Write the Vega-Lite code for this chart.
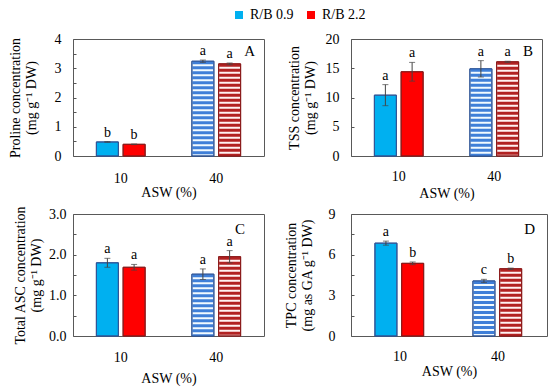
{
  "$schema": "https://vega.github.io/schema/vega-lite/v6.json",
  "padding": {"left": 7, "top": 8, "right": 5, "bottom": 5},
  "datasets": {
    "bars": [
      {"panel": "A", "asw": "10", "rb": "R/B 0.9", "mean": 0.48, "lo": 0.47, "hi": 0.49, "letter": "b"},
      {"panel": "A", "asw": "10", "rb": "R/B 2.2", "mean": 0.40, "lo": 0.39, "hi": 0.41, "letter": "b"},
      {"panel": "A", "asw": "40", "rb": "R/B 0.9", "mean": 3.24, "lo": 3.20, "hi": 3.28, "letter": "a"},
      {"panel": "A", "asw": "40", "rb": "R/B 2.2", "mean": 3.15, "lo": 3.12, "hi": 3.18, "letter": "a"},
      {"panel": "B", "asw": "10", "rb": "R/B 0.9", "mean": 10.4, "lo": 8.6, "hi": 12.2, "letter": "a"},
      {"panel": "B", "asw": "10", "rb": "R/B 2.2", "mean": 14.4, "lo": 12.8, "hi": 16.0, "letter": "a"},
      {"panel": "B", "asw": "40", "rb": "R/B 0.9", "mean": 14.9, "lo": 13.5, "hi": 16.3, "letter": "a"},
      {"panel": "B", "asw": "40", "rb": "R/B 2.2", "mean": 16.1, "lo": 16.0, "hi": 16.2, "letter": "a"},
      {"panel": "C", "asw": "10", "rb": "R/B 0.9", "mean": 1.80, "lo": 1.69, "hi": 1.91, "letter": "a"},
      {"panel": "C", "asw": "10", "rb": "R/B 2.2", "mean": 1.69, "lo": 1.62, "hi": 1.76, "letter": "a"},
      {"panel": "C", "asw": "40", "rb": "R/B 0.9", "mean": 1.52, "lo": 1.39, "hi": 1.65, "letter": "a"},
      {"panel": "C", "asw": "40", "rb": "R/B 2.2", "mean": 1.95, "lo": 1.80, "hi": 2.10, "letter": "a"},
      {"panel": "D", "asw": "10", "rb": "R/B 0.9", "mean": 6.85, "lo": 6.70, "hi": 7.00, "letter": "a"},
      {"panel": "D", "asw": "10", "rb": "R/B 2.2", "mean": 5.36, "lo": 5.26, "hi": 5.46, "letter": "b"},
      {"panel": "D", "asw": "40", "rb": "R/B 0.9", "mean": 4.06, "lo": 3.94, "hi": 4.18, "letter": "c"},
      {"panel": "D", "asw": "40", "rb": "R/B 2.2", "mean": 4.96, "lo": 4.91, "hi": 5.01, "letter": "b"}
    ]
  },
  "columns": 2,
  "spacing": {"row": 58, "column": 87},
  "bounds": "flush",
  "concat": [
    {
      "width": 191, "height": 117,
      "title": {"text": "A", "offset": -27, "dx": -9},
      "data": {"name": "bars"},
      "transform": [{"filter": "datum.panel=='A'"}],
      "encoding": {
        "x": {"field": "asw", "type": "nominal", "sort": ["10", "40"], "scale": {"paddingInner": 0.44, "paddingOuter": 0.22}, "axis": {"title": "ASW (%)", "labelPadding": 15, "titlePadding": 0}},
        "xOffset": {"field": "rb", "type": "nominal", "scale": {"paddingInner": 0, "paddingOuter": 0}}
      },
      "layer": [
        {"mark": {"type": "bar", "width": 22, "strokeWidth": 1},
         "encoding": {
           "y": {"field": "mean", "type": "quantitative", "scale": {"domain": [0, 4], "nice": false}, "axis": {"title": ["Proline concentration", "(mg g⁻¹ DW)"], "values": [0, 0.5, 1, 1.5, 2, 2.5, 3, 3.5, 4], "tickCount": 20, "labelOverlap": false, "labelExpr": "datum.value % 1 == 0 ? format(datum.value, 'd') : ''", "labelPadding": 15, "titlePadding": 16}},
           "fill": {"field": "rb", "type": "nominal", "title": null, "condition": [{"test": "datum.asw=='40' && datum.rb=='R/B 0.9'", "value": "#F2FAFF"}, {"test": "datum.asw=='40' && datum.rb=='R/B 2.2'", "value": "#FFF2F2"}]},
           "stroke": {"condition": {"test": "datum.rb=='R/B 0.9'", "value": "#2F5597"}, "value": "#8B1A1A"}
         }},
        {"transform": [{"filter": "datum.asw=='40'"}],
         "mark": {"type": "rule", "strokeWidth": 21, "strokeDash": [3, 2], "strokeCap": "butt"},
         "encoding": {"y": {"field": "mean", "type": "quantitative"}, "y2": {"datum": 0}, "stroke": {"condition": {"test": "datum.rb=='R/B 0.9'", "value": "#3F7FD8"}, "value": "#B22222"}}},
        {"mark": {"type": "bar", "width": 22, "strokeWidth": 1, "fillOpacity": 0},
         "encoding": {"y": {"field": "mean", "type": "quantitative"}, "stroke": {"condition": {"test": "datum.rb=='R/B 0.9'", "value": "#2F5597"}, "value": "#8B1A1A"}}},
        {"mark": {"type": "rule", "color": "#444"}, "encoding": {"y": {"field": "lo", "type": "quantitative"}, "y2": {"field": "hi"}}},
        {"mark": {"type": "tick", "color": "#444", "size": 6, "thickness": 1}, "encoding": {"y": {"field": "lo", "type": "quantitative"}}},
        {"mark": {"type": "tick", "color": "#444", "size": 6, "thickness": 1}, "encoding": {"y": {"field": "hi", "type": "quantitative"}}},
        {"mark": {"type": "text", "dy": -5, "baseline": "alphabetic", "fontSize": 14, "font": "Liberation Serif"}, "encoding": {"y": {"field": "hi", "type": "quantitative"}, "text": {"field": "letter"}}}
      ]
    },
    {
      "width": 191, "height": 117,
      "title": {"text": "B", "offset": -27, "dx": -9},
      "data": {"name": "bars"},
      "transform": [{"filter": "datum.panel=='B'"}],
      "encoding": {
        "x": {"field": "asw", "type": "nominal", "sort": ["10", "40"], "scale": {"paddingInner": 0.44, "paddingOuter": 0.22}, "axis": {"title": "ASW (%)", "labelPadding": 13, "titlePadding": 3}},
        "xOffset": {"field": "rb", "type": "nominal", "scale": {"paddingInner": 0, "paddingOuter": 0}}
      },
      "layer": [
        {"mark": {"type": "bar", "width": 22, "strokeWidth": 1},
         "encoding": {
           "y": {"field": "mean", "type": "quantitative", "scale": {"domain": [0, 20]}, "axis": {"title": ["TSS concentration", "(mg g⁻¹ DW)"], "values": [0, 5, 10, 15, 20], "tickCount": 20, "labelOverlap": false, "labelPadding": 15, "titlePadding": 8}},
           "fill": {"field": "rb", "type": "nominal", "title": null, "condition": [{"test": "datum.asw=='40' && datum.rb=='R/B 0.9'", "value": "#F2FAFF"}, {"test": "datum.asw=='40' && datum.rb=='R/B 2.2'", "value": "#FFF2F2"}]},
           "stroke": {"condition": {"test": "datum.rb=='R/B 0.9'", "value": "#2F5597"}, "value": "#8B1A1A"}
         }},
        {"transform": [{"filter": "datum.asw=='40'"}],
         "mark": {"type": "rule", "strokeWidth": 21, "strokeDash": [3, 2], "strokeCap": "butt"},
         "encoding": {"y": {"field": "mean", "type": "quantitative"}, "y2": {"datum": 0}, "stroke": {"condition": {"test": "datum.rb=='R/B 0.9'", "value": "#3F7FD8"}, "value": "#B22222"}}},
        {"mark": {"type": "bar", "width": 22, "strokeWidth": 1, "fillOpacity": 0},
         "encoding": {"y": {"field": "mean", "type": "quantitative"}, "stroke": {"condition": {"test": "datum.rb=='R/B 0.9'", "value": "#2F5597"}, "value": "#8B1A1A"}}},
        {"mark": {"type": "rule", "color": "#444"}, "encoding": {"y": {"field": "lo", "type": "quantitative"}, "y2": {"field": "hi"}}},
        {"mark": {"type": "tick", "color": "#444", "size": 6, "thickness": 1}, "encoding": {"y": {"field": "lo", "type": "quantitative"}}},
        {"mark": {"type": "tick", "color": "#444", "size": 6, "thickness": 1}, "encoding": {"y": {"field": "hi", "type": "quantitative"}}},
        {"mark": {"type": "text", "dy": -5, "baseline": "alphabetic", "fontSize": 14, "font": "Liberation Serif"}, "encoding": {"y": {"field": "hi", "type": "quantitative"}, "text": {"field": "letter"}}}
      ]
    },
    {
      "width": 191, "height": 122,
      "title": {"text": "C", "offset": -31, "dx": -19},
      "data": {"name": "bars"},
      "transform": [{"filter": "datum.panel=='C'"}],
      "encoding": {
        "x": {"field": "asw", "type": "nominal", "sort": ["10", "40"], "scale": {"paddingInner": 0.44, "paddingOuter": 0.22}, "axis": {"title": "ASW (%)", "labelPadding": 14, "titlePadding": 7}},
        "xOffset": {"field": "rb", "type": "nominal", "scale": {"paddingInner": 0, "paddingOuter": 0}}
      },
      "layer": [
        {"mark": {"type": "bar", "width": 22, "strokeWidth": 1},
         "encoding": {
           "y": {"field": "mean", "type": "quantitative", "scale": {"domain": [0, 3]}, "axis": {"title": ["Total ASC concentration", "(mg g⁻¹ DW)"], "values": [0, 0.5, 1, 1.5, 2, 2.5, 3], "tickCount": 20, "labelOverlap": false, "labelExpr": "datum.value % 1 == 0 ? format(datum.value, '.1f') : ''", "labelPadding": 10, "titlePadding": 5}},
           "fill": {"field": "rb", "type": "nominal", "title": null, "condition": [{"test": "datum.asw=='40' && datum.rb=='R/B 0.9'", "value": "#F2FAFF"}, {"test": "datum.asw=='40' && datum.rb=='R/B 2.2'", "value": "#FFF2F2"}]},
           "stroke": {"condition": {"test": "datum.rb=='R/B 0.9'", "value": "#2F5597"}, "value": "#8B1A1A"}
         }},
        {"transform": [{"filter": "datum.asw=='40'"}],
         "mark": {"type": "rule", "strokeWidth": 21, "strokeDash": [3, 2], "strokeCap": "butt"},
         "encoding": {"y": {"field": "mean", "type": "quantitative"}, "y2": {"datum": 0}, "stroke": {"condition": {"test": "datum.rb=='R/B 0.9'", "value": "#3F7FD8"}, "value": "#B22222"}}},
        {"mark": {"type": "bar", "width": 22, "strokeWidth": 1, "fillOpacity": 0},
         "encoding": {"y": {"field": "mean", "type": "quantitative"}, "stroke": {"condition": {"test": "datum.rb=='R/B 0.9'", "value": "#2F5597"}, "value": "#8B1A1A"}}},
        {"mark": {"type": "rule", "color": "#444"}, "encoding": {"y": {"field": "lo", "type": "quantitative"}, "y2": {"field": "hi"}}},
        {"mark": {"type": "tick", "color": "#444", "size": 6, "thickness": 1}, "encoding": {"y": {"field": "lo", "type": "quantitative"}}},
        {"mark": {"type": "tick", "color": "#444", "size": 6, "thickness": 1}, "encoding": {"y": {"field": "hi", "type": "quantitative"}}},
        {"mark": {"type": "text", "dy": -5, "baseline": "alphabetic", "fontSize": 14, "font": "Liberation Serif"}, "encoding": {"y": {"field": "hi", "type": "quantitative"}, "text": {"field": "letter"}}}
      ]
    },
    {
      "width": 196, "height": 122,
      "title": {"text": "D", "offset": -30, "dx": -12},
      "data": {"name": "bars"},
      "transform": [{"filter": "datum.panel=='D'"}],
      "encoding": {
        "x": {"field": "asw", "type": "nominal", "sort": ["10", "40"], "scale": {"paddingInner": 0.44, "paddingOuter": 0.22}, "axis": {"title": "ASW (%)", "labelPadding": 13, "titlePadding": 1}},
        "xOffset": {"field": "rb", "type": "nominal", "scale": {"paddingInner": 0, "paddingOuter": 0}}
      },
      "layer": [
        {"mark": {"type": "bar", "width": 22, "strokeWidth": 1},
         "encoding": {
           "y": {"field": "mean", "type": "quantitative", "scale": {"domain": [0, 9]}, "axis": {"title": ["TPC concentration", "(mg  as GA g⁻¹ DW)"], "values": [0, 1.5, 3, 4.5, 6, 7.5, 9], "tickCount": 20, "labelOverlap": false, "labelExpr": "datum.value % 3 == 0 ? format(datum.value, 'd') : ''", "labelPadding": 19, "titlePadding": 14}},
           "fill": {"field": "rb", "type": "nominal", "title": null, "condition": [{"test": "datum.asw=='40' && datum.rb=='R/B 0.9'", "value": "#F2FAFF"}, {"test": "datum.asw=='40' && datum.rb=='R/B 2.2'", "value": "#FFF2F2"}]},
           "stroke": {"condition": {"test": "datum.rb=='R/B 0.9'", "value": "#2F5597"}, "value": "#8B1A1A"}
         }},
        {"transform": [{"filter": "datum.asw=='40'"}],
         "mark": {"type": "rule", "strokeWidth": 21, "strokeDash": [3, 2], "strokeCap": "butt"},
         "encoding": {"y": {"field": "mean", "type": "quantitative"}, "y2": {"datum": 0}, "stroke": {"condition": {"test": "datum.rb=='R/B 0.9'", "value": "#3F7FD8"}, "value": "#B22222"}}},
        {"mark": {"type": "bar", "width": 22, "strokeWidth": 1, "fillOpacity": 0},
         "encoding": {"y": {"field": "mean", "type": "quantitative"}, "stroke": {"condition": {"test": "datum.rb=='R/B 0.9'", "value": "#2F5597"}, "value": "#8B1A1A"}}},
        {"mark": {"type": "rule", "color": "#444"}, "encoding": {"y": {"field": "lo", "type": "quantitative"}, "y2": {"field": "hi"}}},
        {"mark": {"type": "tick", "color": "#444", "size": 6, "thickness": 1}, "encoding": {"y": {"field": "lo", "type": "quantitative"}}},
        {"mark": {"type": "tick", "color": "#444", "size": 6, "thickness": 1}, "encoding": {"y": {"field": "hi", "type": "quantitative"}}},
        {"mark": {"type": "text", "dy": -5, "baseline": "alphabetic", "fontSize": 14, "font": "Liberation Serif"}, "encoding": {"y": {"field": "hi", "type": "quantitative"}, "text": {"field": "letter"}}}
      ]
    }
  ],
  "resolve": {"scale": {"fill": "shared"}},
  "config": {
    "font": "Liberation Serif",
    "view": {"stroke": "#595959", "strokeWidth": 1},
    "range": {"category": ["#00B0F0", "#FF0000"]},
    "axis": {"labelFont": "Liberation Serif", "titleFont": "Liberation Serif", "labelFontSize": 14, "titleFontSize": 14, "titleFontWeight": "normal", "labelColor": "#000", "titleColor": "#000", "grid": false, "domain": false},
    "axisX": {"ticks": false, "labelAngle": 0},
    "axisY": {"tickSize": -3, "tickColor": "#555", "titleLineHeight": 16, "labelOverlap": false},
    "title": {"font": "Liberation Serif", "fontSize": 15, "fontWeight": "normal", "anchor": "end", "color": "#000"},
    "legend": {"orient": "none", "legendX": 159, "legendY": -31, "direction": "horizontal", "symbolType": "square", "symbolSize": 64, "symbolStrokeWidth": 0, "labelFont": "Liberation Serif", "labelFontSize": 14, "labelColor": "#000", "columnPadding": 10, "title": null}
  }
}
